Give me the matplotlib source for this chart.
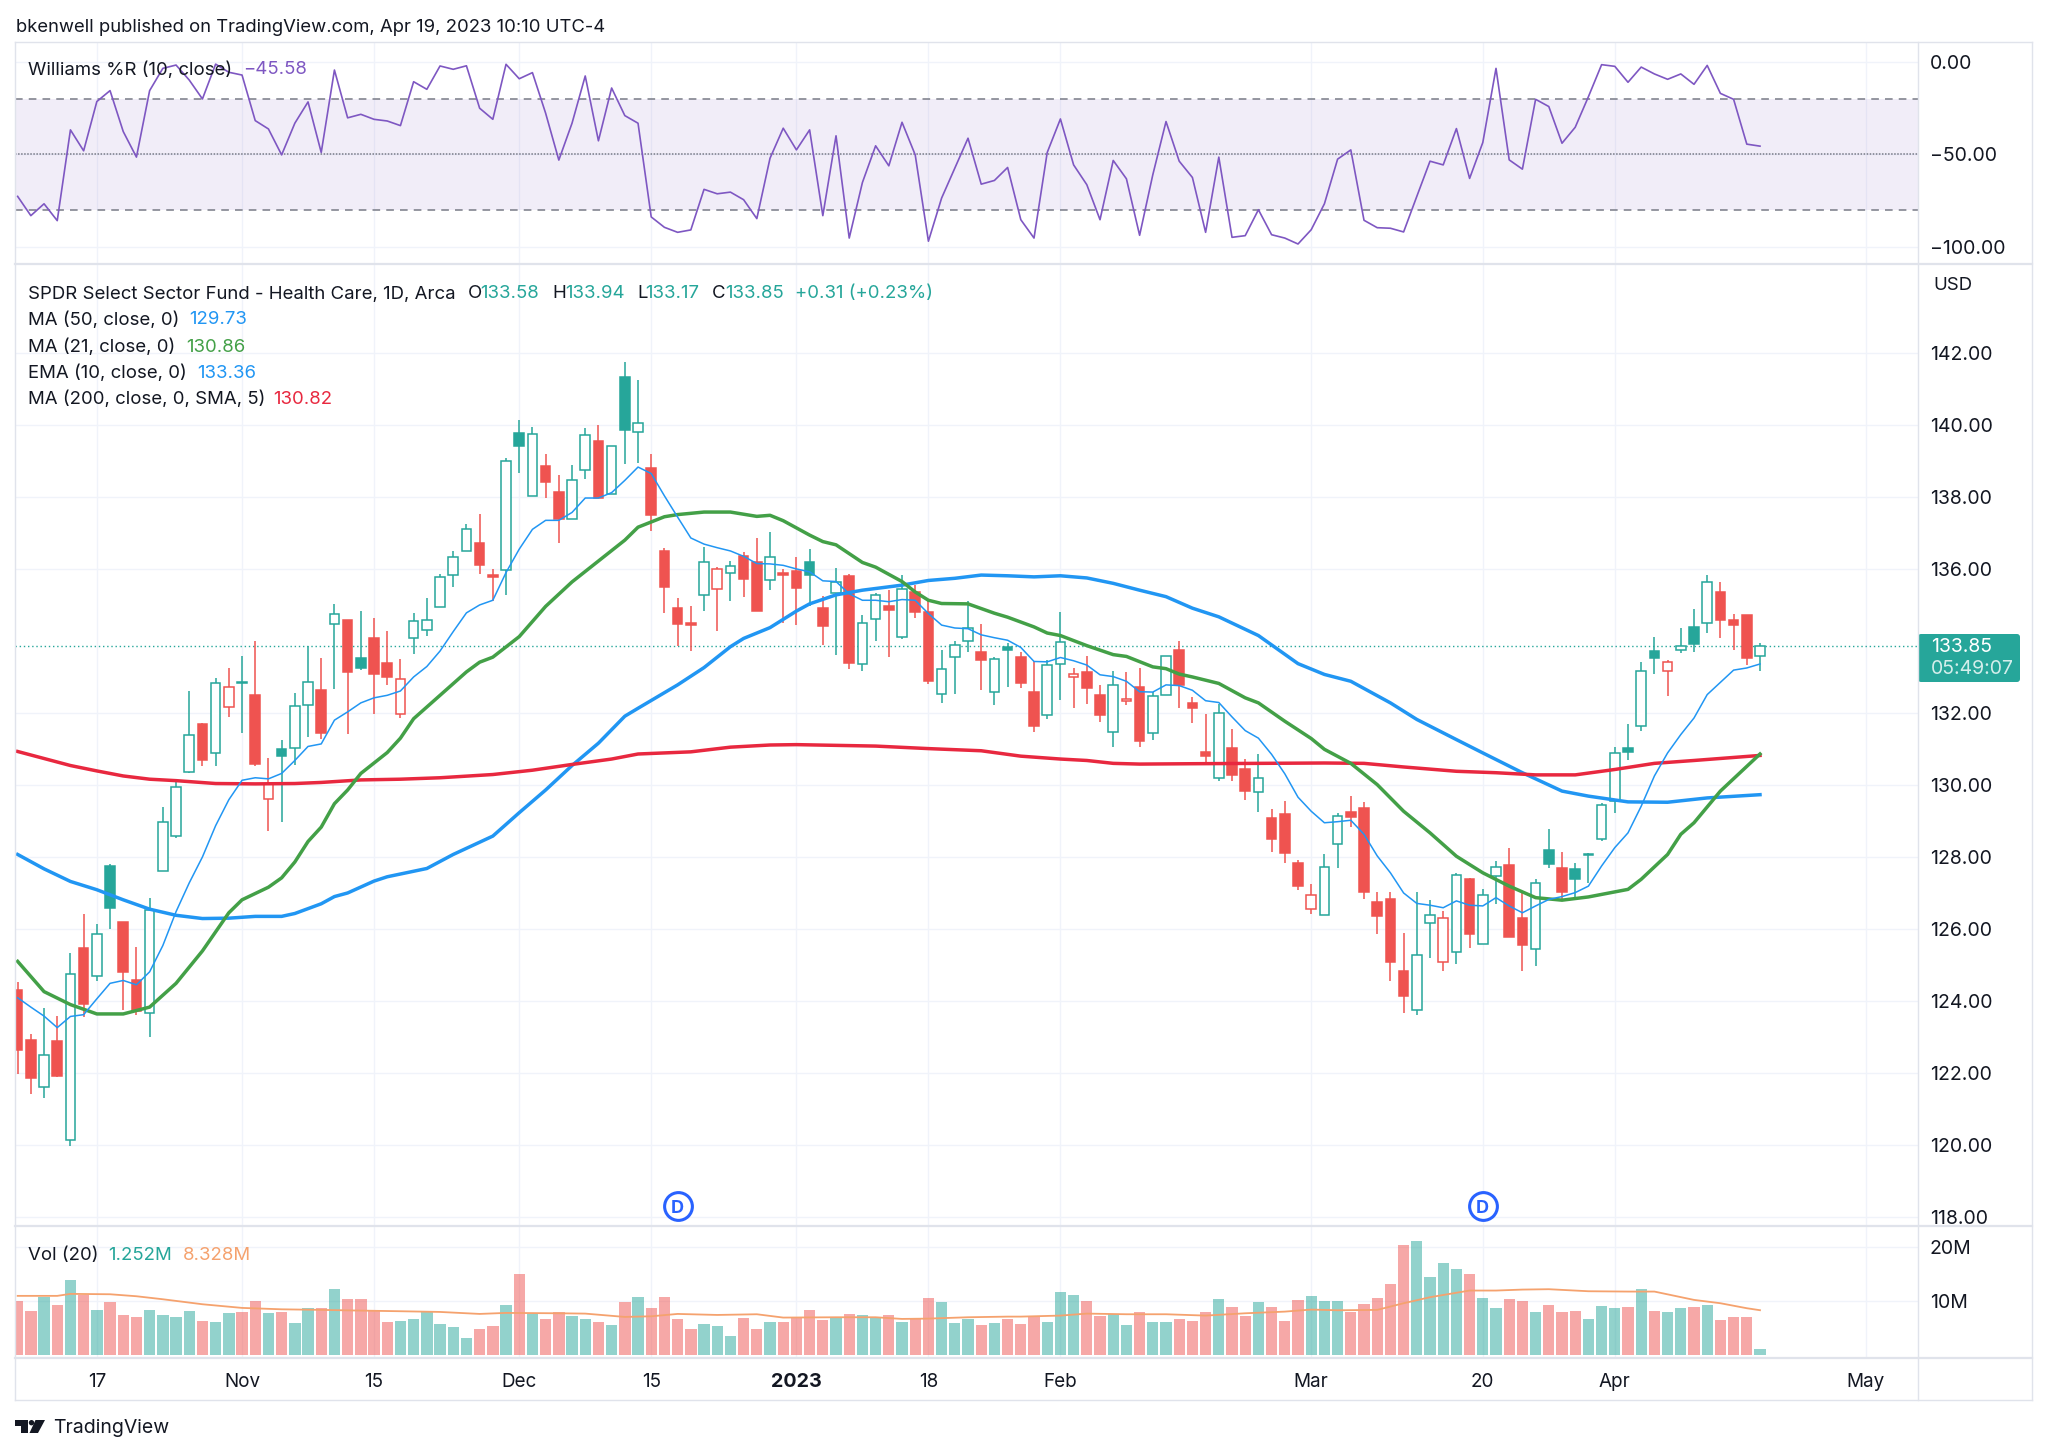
import matplotlib
matplotlib.use('Agg')
import matplotlib.pyplot as plt
from matplotlib.patches import FancyBboxPatch, Polygon, Circle

matplotlib.rcParams['font.family'] = ['Inter', 'DejaVu Sans']

# --- data, one entry per daily bar ---
opens = [124.30, 122.91, 121.62, 122.90, 120.14, 125.46, 124.70, 127.75, 126.20, 124.58,
         123.68, 127.61, 128.59, 130.36, 131.68, 130.90, 132.16, 132.87, 132.49, 129.61,
         131.00, 131.03, 132.23, 132.65, 134.46, 134.58, 133.52, 134.09, 133.39, 131.97,
         134.09, 134.30, 134.94, 135.83, 136.49, 136.71, 135.82, 135.97, 139.78, 138.03,
         138.87, 138.14, 137.39, 138.75, 139.55, 138.07, 141.33, 139.80, 138.81, 136.49,
         134.92, 134.50, 135.27, 135.45, 135.89, 136.36, 136.19, 135.69, 135.88, 135.95,
         136.20, 134.92, 135.33, 135.80, 133.36, 134.60, 134.98, 134.11, 135.36, 134.80,
         132.53, 133.55, 134.00, 133.68, 132.59, 133.82, 133.55, 132.58, 131.95, 133.36,
         133.00, 133.15, 132.49, 131.48, 132.32, 132.72, 131.44, 132.51, 133.75, 132.27,
         130.91, 130.20, 131.03, 130.43, 129.80, 129.09, 129.20, 127.82, 126.56, 126.38,
         128.35, 129.26, 129.37, 126.76, 126.82, 124.84, 123.75, 126.17, 125.07, 125.37,
         127.38, 125.59, 127.47, 127.79, 126.31, 125.44, 128.18, 127.68, 127.66, 128.06,
         128.49, 129.55, 131.04, 131.65, 133.71, 133.16, 133.74, 134.39, 134.50, 135.35,
         134.59, 134.72, 133.58]
highs = [124.52, 123.07, 123.80, 123.59, 125.32, 126.41, 126.14, 127.80, 126.20, 125.49,
         126.87, 129.38, 130.09, 132.61, 131.71, 132.96, 133.25, 133.57, 134.00, 130.75,
         131.26, 132.55, 133.87, 133.54, 135.03, 134.58, 134.83, 134.64, 134.29, 133.49,
         134.78, 135.20, 135.86, 136.51, 137.25, 137.52, 136.01, 139.07, 140.13, 139.94,
         139.19, 138.61, 138.90, 139.91, 139.99, 139.41, 141.74, 141.25, 139.19, 136.57,
         135.18, 134.96, 136.61, 136.06, 136.23, 136.47, 136.85, 137.04, 136.00, 136.32,
         136.55, 135.25, 136.03, 135.85, 134.73, 135.33, 135.41, 135.84, 135.55, 135.11,
         133.76, 133.99, 135.11, 134.48, 133.55, 133.94, 133.70, 133.43, 133.48, 134.81,
         133.26, 133.59, 132.77, 133.17, 133.15, 133.25, 132.58, 133.57, 134.00, 132.44,
         131.98, 132.24, 131.56, 130.72, 130.85, 129.33, 129.56, 127.91, 127.24, 128.09,
         129.21, 129.69, 129.52, 127.04, 127.04, 125.90, 127.03, 126.80, 126.49, 127.56,
         127.42, 127.12, 127.89, 128.26, 127.05, 127.40, 128.77, 128.14, 127.84, 128.10,
         129.51, 131.06, 131.70, 133.41, 134.10, 133.48, 134.36, 134.90, 135.82, 135.64,
         134.76, 134.72, 133.94]
lows = [121.96, 121.41, 121.30, 121.88, 119.97, 123.55, 124.55, 126.00, 123.75, 123.62,
        123.01, 127.61, 128.54, 130.33, 130.52, 130.52, 131.88, 131.43, 130.52, 128.72,
        128.97, 130.55, 131.33, 131.29, 132.67, 131.41, 133.19, 131.97, 132.78, 131.87,
        133.65, 134.14, 134.93, 135.49, 136.49, 135.86, 135.10, 135.28, 138.67, 138.03,
        137.96, 136.72, 137.39, 138.51, 137.97, 138.07, 138.91, 138.94, 137.06, 134.79,
        133.86, 133.72, 134.84, 134.27, 135.10, 135.22, 134.82, 135.41, 134.49, 134.44,
        134.96, 133.90, 133.62, 133.23, 133.17, 134.00, 133.55, 134.06, 134.65, 132.80,
        132.28, 132.52, 133.70, 132.63, 132.22, 132.73, 132.69, 131.48, 131.84, 132.37,
        132.14, 132.26, 131.76, 131.05, 132.22, 131.05, 131.25, 132.51, 132.14, 131.71,
        130.55, 130.10, 130.10, 129.58, 129.26, 128.15, 127.84, 127.09, 126.42, 126.38,
        127.70, 128.84, 126.82, 125.85, 124.56, 123.68, 123.61, 125.19, 124.83, 125.04,
        125.48, 125.57, 126.68, 125.79, 124.83, 124.97, 127.68, 126.78, 126.87, 127.29,
        128.44, 129.21, 130.69, 131.50, 133.09, 132.47, 133.67, 133.69, 134.21, 134.07,
        133.76, 133.34, 133.17]
closes = [122.64, 121.86, 122.49, 121.91, 124.74, 123.91, 125.87, 126.59, 124.81, 123.72,
          126.52, 128.97, 129.94, 131.38, 130.70, 132.84, 132.72, 132.83, 130.57, 130.03,
          130.81, 132.19, 132.86, 131.43, 134.75, 133.13, 133.25, 133.07, 133.00, 132.94,
          134.55, 134.59, 135.78, 136.32, 137.12, 136.12, 135.78, 138.99, 139.41, 139.75,
          138.42, 137.39, 138.48, 139.72, 137.97, 139.41, 139.87, 140.06, 137.51, 135.51,
          134.47, 134.43, 136.20, 136.01, 136.09, 135.73, 134.84, 136.33, 135.83, 135.46,
          135.82, 134.42, 135.65, 133.38, 134.50, 135.27, 134.85, 135.43, 134.81, 132.90,
          133.23, 133.89, 134.35, 133.46, 133.50, 133.74, 132.84, 131.64, 133.34, 133.98,
          133.07, 132.68, 131.94, 132.78, 132.40, 131.23, 132.48, 133.57, 132.77, 132.14,
          130.80, 131.99, 130.27, 129.83, 130.18, 128.50, 128.12, 127.18, 126.95, 127.72,
          129.15, 129.10, 127.03, 126.36, 125.07, 124.14, 125.29, 126.40, 126.31, 127.49,
          125.85, 126.94, 127.72, 125.79, 125.56, 127.29, 127.81, 127.04, 127.38, 128.09,
          129.45, 130.89, 130.91, 133.17, 133.52, 133.42, 133.85, 133.91, 135.64, 134.58,
          134.44, 133.54, 133.85]
candle_colors = ("rrgrgrggrr" "ggggrgrgrr" "gggrgrgrrr" "gggggrrggg" "rrggrgggrr"
                 "rrgrgrrgrr" "grgrggrgrr" "gggrggrrgg" "rrrgrrggrr" "rgrrgrrrrg"
                 "grrrrrggrg" "rggrrggrgg" "gggggrgggr" "rrg")

volume = [10.0, 8.26, 10.75, 9.25, 13.98, 11.18, 8.39, 9.94, 7.52, 7.08,
          8.39, 7.39, 7.08, 8.26, 6.34, 6.21, 7.76, 7.95, 10.12, 7.83,
          7.95, 5.96, 8.82, 8.82, 12.3, 10.37, 10.37, 8.39, 6.09, 6.4,
          6.65, 8.07, 5.78, 5.22, 3.17, 4.91, 5.34, 9.25, 15.03, 7.64,
          6.77, 8.07, 7.33, 6.65, 6.09, 5.53, 9.81, 10.81, 8.7, 10.81,
          6.71, 4.78, 5.78, 5.4, 3.6, 6.96, 4.91, 6.21, 6.21, 6.96,
          8.39, 6.58, 6.96, 7.64, 7.45, 6.96, 7.52, 6.21, 6.65, 10.56,
          9.81, 5.9, 6.77, 5.59, 5.9, 6.77, 5.78, 7.14, 6.21, 11.68,
          11.24, 10.0, 7.27, 7.58, 5.53, 7.95, 6.09, 6.21, 6.77, 6.34,
          7.95, 10.43, 8.94, 7.27, 9.88, 8.94, 6.34, 10.25, 10.99, 10.12,
          10.0, 8.07, 9.5, 10.68, 13.17, 20.5, 21.24, 14.53, 17.2, 16.02,
          15.03, 10.56, 8.7, 10.37, 10.0, 8.07, 9.38, 7.95, 8.14, 6.77,
          9.13, 8.82, 8.94, 12.24, 8.26, 7.95, 8.82, 8.94, 9.25, 6.52,
          7.08, 7.08, 1.18]

williams = [-72.7, -83.1, -76.7, -85.8, -36.8, -48.1, -21.5, -15.6, -37.7, -51.5,
            -15.6, -3.6, -1.8, -9.9, -20.1, -1.3, -5.7, -7.2, -31.8, -36.3,
            -50.3, -33.2, -21.7, -49.0, -4.5, -30.3, -28.4, -31.1, -32.0, -34.5,
            -10.8, -14.9, -2.3, -4.1, -2.2, -25.1, -31.1, -1.4, -9.2, -5.9,
            -27.8, -53.1, -33.2, -7.7, -42.7, -14.2, -29.1, -33.2, -83.8, -89.4,
            -92.1, -90.8, -68.9, -71.3, -70.4, -74.5, -84.7, -52.1, -35.9, -47.6,
            -36.8, -83.1, -40.0, -95.2, -65.2, -45.4, -56.2, -32.7, -50.3, -96.9,
            -73.6, -57.5, -41.3, -66.1, -64.1, -57.1, -85.3, -95.2, -49.0, -30.9,
            -55.7, -66.4, -85.3, -53.3, -63.2, -93.7, -61.0, -32.3, -53.7, -62.5,
            -92.1, -51.5, -94.8, -93.9, -79.9, -93.4, -95.2, -98.4, -90.7, -76.7,
            -52.6, -47.6, -85.6, -89.6, -89.9, -91.9, -72.7, -53.7, -55.7, -36.1,
            -63.0, -43.6, -3.6, -53.0, -58.0, -20.3, -24.2, -44.0, -35.4, -18.9,
            -1.6, -2.5, -11.1, -2.9, -6.6, -9.5, -6.6, -12.2, -2.0, -17.1,
            -20.3, -44.5, -45.58]

ema10 = [124.09, 123.83, 123.58, 123.26, 123.57, 123.62, 124.06, 124.49, 124.57, 124.45,
         124.81, 125.54, 126.48, 127.28, 128.0, 128.87, 129.59, 130.13, 130.20, 130.17,
         130.32, 130.68, 131.07, 131.14, 131.80, 132.03, 132.28, 132.42, 132.49, 132.61,
         133.0, 133.29, 133.72, 134.26, 134.78, 135.0, 135.13, 135.90, 136.55, 137.10,
         137.35, 137.35, 137.57, 137.97, 137.97, 138.12, 138.46, 138.83, 138.65, 138.03,
         137.44, 136.86, 136.69, 136.59, 136.50, 136.35, 136.15, 136.14, 136.10, 136.0,
         135.92, 135.67, 135.65, 135.31, 135.13, 135.13, 135.09, 135.15, 135.13, 134.76,
         134.44, 134.36, 134.34, 134.17, 134.09, 134.02, 133.82, 133.43, 133.42, 133.54,
         133.45, 133.33, 133.06, 133.01, 132.88, 132.59, 132.58, 132.78, 132.76, 132.63,
         132.34, 132.29, 131.89, 131.51, 131.30, 130.85, 130.31, 129.66, 129.27, 128.95,
         128.98, 129.02, 128.63, 128.03, 127.56, 127.0, 126.71, 126.66, 126.59, 126.78,
         126.66, 126.64, 126.87, 126.64, 126.45, 126.64, 126.82, 126.90, 127.01, 127.19,
         127.75, 128.26, 128.67, 129.41, 130.25, 130.89, 131.40, 131.86, 132.51, 132.85,
         133.19, 133.25, 133.36]

ma50_x = [0, 2, 4, 6, 8, 10, 12, 14, 16, 18, 20, 21, 23, 24, 25, 27, 28, 31, 33, 36, 38, 40,
          42, 44, 46, 47, 50, 52, 54, 55, 57, 59, 60, 62, 64, 67, 69, 71, 73, 75, 77, 79, 81,
          83, 85, 87, 89, 91, 94, 97, 99, 101, 104, 106, 109, 111, 114, 117, 119, 122, 125,
          128, 132]
ma50_y = [128.07, 127.67, 127.32, 127.09, 126.81, 126.55, 126.38, 126.29, 126.30, 126.35,
          126.35, 126.43, 126.70, 126.90, 127.0, 127.33, 127.45, 127.68, 128.07, 128.58,
          129.23, 129.86, 130.54, 131.16, 131.91, 132.13, 132.78, 133.26, 133.84, 134.07,
          134.37, 134.83, 135.03, 135.28, 135.41, 135.55, 135.68, 135.74, 135.83, 135.81,
          135.78, 135.81, 135.75, 135.60, 135.41, 135.23, 134.91, 134.67, 134.15, 133.37,
          133.07, 132.88, 132.28, 131.82, 131.26, 130.89, 130.34, 129.83, 129.69, 129.53,
          129.52, 129.64, 129.73]

ma21_x = [0, 2, 4, 6, 8, 10, 12, 14, 16, 17, 19, 20, 21, 22, 23, 24, 25, 26, 28, 29, 30, 32,
          34, 35, 36, 38, 40, 42, 44, 46, 47, 49, 50, 52, 54, 56, 57, 58, 60, 61, 62, 64, 65,
          67, 68, 69, 70, 72, 74, 75, 77, 78, 79, 81, 83, 84, 86, 87, 88, 89, 91, 93, 94, 96,
          98, 99, 101, 103, 105, 107, 109, 111, 113, 115, 117, 119, 122, 123, 125, 126, 127,
          129, 132]
ma21_y = [125.10, 124.26, 123.90, 123.64, 123.64, 123.83, 124.49, 125.39, 126.45, 126.81,
          127.16, 127.42, 127.86, 128.43, 128.83, 129.48, 129.86, 130.32, 130.90, 131.30,
          131.84, 132.49, 133.14, 133.41, 133.55, 134.12, 134.96, 135.64, 136.22, 136.80,
          137.16, 137.45, 137.51, 137.58, 137.58, 137.46, 137.49, 137.34, 136.94, 136.76,
          136.67, 136.18, 136.05, 135.65, 135.36, 135.13, 135.04, 135.03, 134.77, 134.66,
          134.39, 134.22, 134.15, 133.87, 133.62, 133.57, 133.28, 133.23, 133.08, 133.0,
          132.82, 132.42, 132.28, 131.77, 131.29, 130.99, 130.60, 130.01, 129.27, 128.67,
          128.02, 127.56, 127.19, 126.87, 126.80, 126.89, 127.10, 127.38, 128.07, 128.63,
          128.95, 129.83, 130.86]

ma200_x = [0, 4, 6, 8, 10, 12, 15, 18, 21, 23, 26, 29, 32, 36, 39, 42, 45, 47, 51, 54, 57,
           59, 65, 69, 73, 76, 79, 81, 83, 85, 89, 94, 99, 102, 105, 109, 112, 115, 118, 121,
           124, 127, 132]
ma200_y = [130.93, 130.54, 130.39, 130.25, 130.16, 130.12, 130.04, 130.03, 130.04, 130.07,
           130.14, 130.16, 130.20, 130.29, 130.41, 130.57, 130.72, 130.86, 130.92, 131.05,
           131.11, 131.12, 131.08, 131.01, 130.95, 130.80, 130.72, 130.68, 130.60, 130.58,
           130.59, 130.60, 130.61, 130.60, 130.50, 130.38, 130.34, 130.28, 130.28, 130.43,
           130.60, 130.68, 130.82]

volma_x = [0, 3, 4, 7, 9, 11, 14, 17, 20, 23, 26, 29, 32, 35, 37, 41, 43, 46, 48, 50, 53, 56,
           58, 62, 65, 67, 69, 72, 75, 76, 79, 81, 84, 87, 90, 93, 96, 98, 100, 103, 105, 107,
           110, 112, 114, 116, 119, 122, 124, 127, 129, 131, 132]
volma_y = [11.0, 11.0, 11.37, 11.3, 10.93, 10.37, 9.44, 8.76, 8.5, 8.39, 8.26, 8.14, 8.01,
           7.64, 7.83, 7.76, 7.7, 7.08, 7.2, 7.64, 7.45, 7.58, 6.96, 7.02, 7.02, 6.71, 6.77,
           7.02, 7.14, 7.14, 7.33, 7.7, 7.58, 7.58, 7.33, 7.76, 8.07, 8.45, 8.32, 8.39, 9.63,
           10.75, 11.99, 11.99, 12.17, 12.24, 11.86, 11.8, 11.8, 10.25, 9.63, 8.7, 8.33]

dividend_x = [50, 111]
dividend_y = [118.3, 118.3]

time_ticks = [6, 17, 27, 38, 48, 59, 69, 79, 98, 111, 121, 140]
time_labels = ['17', 'Nov', '15', 'Dec', '15', '2023', '18', 'Feb', 'Mar', '20', 'Apr', 'May']
price_ticks = [118, 120, 122, 124, 126, 128, 130, 132, 136, 138, 140, 142]
wr_ticks = [0, -50, -100]
vol_ticks = [10, 20]

TEAL = '#26a69a'
RED = '#ef5350'
PURPLE = '#7e57c2'
BLUE = '#2196f3'
GREEN = '#43a047'
CRIMSON = '#e8283f'
ORANGE = '#f5a26e'
INK = '#131722'
GRID = '#f0f3fa'
BORDER = '#e0e3eb'
W, H = 2048, 1455
LEFT, RIGHT = 15, 1918


def panel(fig, top, bottom):
    ax = fig.add_axes([LEFT / W, 1 - bottom / H, (RIGHT - LEFT) / W, (bottom - top) / H])
    ax.set_xlim(-0.2, 143.97)
    for s in ax.spines.values():
        s.set_visible(False)
    ax.grid(True, color=GRID, lw=1.0)
    ax.set_axisbelow(True)
    ax.set_xticks(time_ticks)
    ax.yaxis.tick_right()
    ax.tick_params(axis='both', length=0, labelsize=13.6, labelcolor=INK)
    ax.tick_params(axis='y', pad=8.5, labelsize=14)
    ax.tick_params(axis='x', labelbottom=False)
    return ax


fig = plt.figure(figsize=(W / 100, H / 100), dpi=100, facecolor='white')

# Williams %R
ax_w = panel(fig, 41.7, 264)
ax_w.set_ylim(-109.2, 10.8)
ax_w.set_yticks(wr_ticks)
ax_w.set_yticklabels(['0.00', '\u221250.00', '\u2212100.00'], va='center_baseline')
ax_w.axhspan(-80, -20, color=PURPLE, alpha=0.1, lw=0)
ax_w.axhline(-20, color='#787b86', lw=1.1, ls=(0, (5, 4)))
ax_w.axhline(-80, color='#787b86', lw=1.1, ls=(0, (5, 4)))
ax_w.axhline(-50, color='#787b86', lw=1.1, ls=(0, (1, 1)))
ax_w.plot(range(len(williams)), williams, color=PURPLE, lw=1.2)

# candles, moving averages
ax_p = panel(fig, 264, 1226)
ax_p.set_ylim(117.75, 144.47)
ax_p.set_yticks(price_ticks)
ax_p.set_yticklabels(['%.2f' % p for p in price_ticks], va='center_baseline')
ax_p.axhline(closes[-1], color=TEAL, lw=1.0, ls=(0, (1, 2)), zorder=1)
for i in range(len(opens)):
    c = TEAL if candle_colors[i] == 'g' else RED
    ax_p.vlines(i, lows[i], highs[i], color=c, lw=1.1, zorder=2)
    body = abs(closes[i] - opens[i])
    face = c if closes[i] < opens[i] else 'white'
    ax_p.bar(i, body, bottom=min(opens[i], closes[i]), width=0.72, color=face,
             edgecolor=c, linewidth=1.1, zorder=3)
ax_p.plot(ma50_x, ma50_y, color=BLUE, lw=2.5, zorder=4)
ax_p.plot(ma200_x, ma200_y, color=CRIMSON, lw=2.5, zorder=4)
ax_p.plot(ma21_x, ma21_y, color=GREEN, lw=2.5, zorder=5)
ax_p.plot(range(len(ema10)), ema10, color=BLUE, lw=1.1, zorder=5)
ax_p.plot(dividend_x, dividend_y, ls='none', marker='o', ms=20, mfc='white', mec='#2962ff',
          mew=2.2, zorder=6)
for x, y in zip(dividend_x, dividend_y):
    ax_p.text(x, y, 'D', color='#2962ff', fontsize=13, fontweight='bold', ha='center',
              va='center_baseline', zorder=7)

# volume
ax_v = panel(fig, 1226, 1358)
ax_v.set_ylim(-0.56, 24.0)
ax_v.set_yticks(vol_ticks)
ax_v.set_yticklabels(['10M', '20M'], va='center_baseline')
vol_colors = [TEAL if c >= o else RED for o, c in zip(opens, closes)]
ax_v.bar(range(len(volume)), volume, width=0.86, color=vol_colors, alpha=0.5, lw=0)
ax_v.plot(volma_x, volma_y, color=ORANGE, lw=1.3)
ax_v.tick_params(axis='x', labelbottom=True, pad=10.7)
ax_v.set_xticklabels(time_labels)
for lab in ax_v.get_xticklabels():
    if lab.get_text() == '2023':
        lab.set_fontweight('bold')
        lab.set_fontsize(14.2)

# overlay in picture pixels: frame, legend texts, price box, logo
ov = fig.add_axes([0, 0, 1, 1], zorder=10)
ov.set_xlim(0, W)
ov.set_ylim(H, 0)
ov.axis('off')
ov.patch.set_alpha(0)

for y in [41.5, 1400]:
    ov.plot([LEFT, 2032], [y, y], color=BORDER, lw=1.0)
for y in [264, 1226, 1358]:
    ov.plot([LEFT, 2032], [y, y], color=BORDER, lw=1.6)
for x in [LEFT, RIGHT, 2032]:
    ov.plot([x, x], [41.5, 1400], color=BORDER, lw=1.0)


def label(x, y, s, color=INK, size=13.4, **kw):
    ov.text(x, y, s, color=color, fontsize=size, va='center', ha='left', **kw)


label(16, 27, 'bkenwell published on TradingView.com, Apr 19, 2023 10:10 UTC-4', size=13.3)
label(28, 70, 'Williams %R (10, close)')
label(243, 70, '\u221245.58', PURPLE)
label(28, 294, 'SPDR Select Sector Fund - Health Care, 1D, Arca')
for x, s in [(468, 'O'), (552, 'H'), (637, 'L'), (712, 'C')]:
    label(x, 294, s)
for x, s in [(480, '133.58'), (565, '133.94'), (645, '133.17'), (725, '133.85'),
             (795, '+0.31 (+0.23%)')]:
    label(x, 294, s, TEAL)
label(28, 320, 'MA (50, close, 0)')
label(189, 320, '129.73', BLUE)
label(28, 347, 'MA (21, close, 0)')
label(186, 347, '130.86', GREEN)
label(28, 373, 'EMA (10, close, 0)')
label(197, 373, '133.36', BLUE)
label(28, 399, 'MA (200, close, 0, SMA, 5)')
label(273, 399, '130.82', CRIMSON)
label(28, 1256, 'Vol (20)')
label(108, 1256, '1.252M', TEAL)
label(183, 1256, '8.328M', ORANGE)
label(1933, 286, 'USD')

ov.add_patch(FancyBboxPatch((1920, 636), 98, 44, boxstyle='round,pad=2,rounding_size=3',
                            fc=TEAL, ec=TEAL, lw=0))
label(1931, 647, '133.85', 'white', size=14)
label(1931, 669, '05:49:07', '#d4eeeb', size=14)

ov.add_patch(Polygon([(15, 1420), (28, 1420), (28, 1433), (21, 1433), (21, 1425.5), (15, 1425.5)],
                     fc=INK, lw=0))
ov.add_patch(Circle((31.5, 1422.7), 2.7, fc=INK, lw=0))
ov.add_patch(Polygon([(35.5, 1420), (45, 1420), (38, 1433), (29.5, 1433)], fc=INK, lw=0))
label(53, 1428, 'TradingView', size=14)

fig.savefig('out.png', dpi=100, facecolor='white')
